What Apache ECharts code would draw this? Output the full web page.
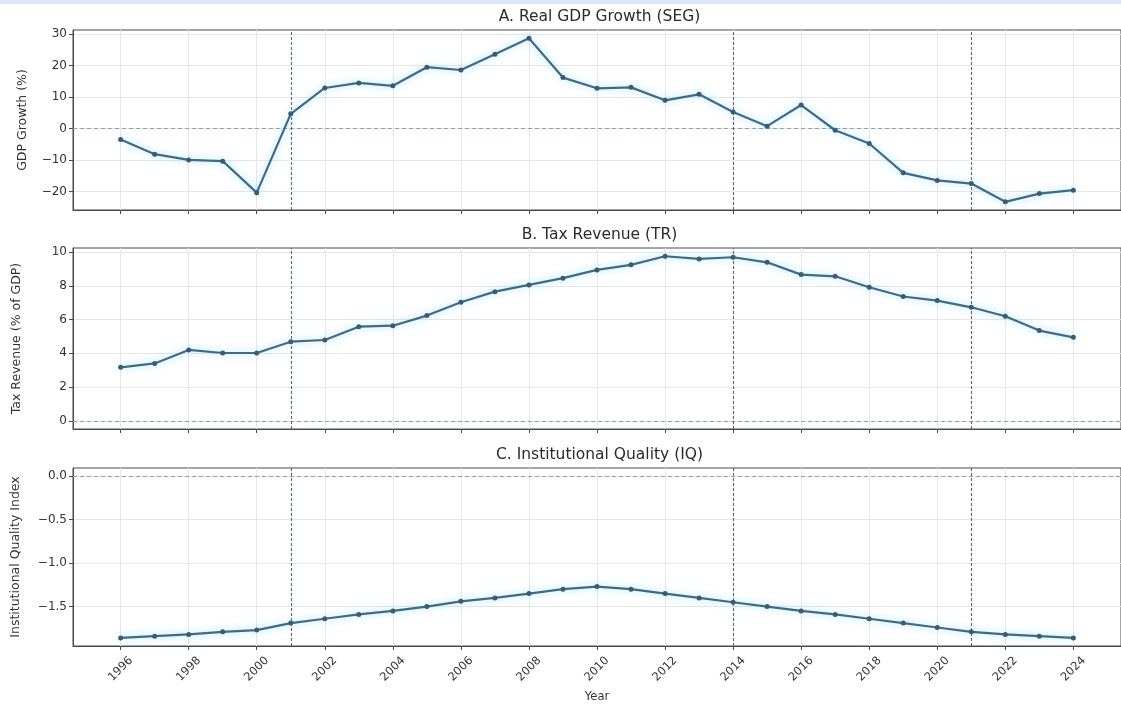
<!DOCTYPE html>
<html>
<head>
<meta charset="utf-8">
<title>Macro indicators 1996–2024</title>
<script src="https://cdn.jsdelivr.net/npm/echarts@6/dist/echarts.min.js"></script>
<style>
  html, body { margin: 0; padding: 0; background: #ffffff; }
  #chart { width: 1121px; height: 704px; }
  #band { position: absolute; left: 0; top: 0; width: 1121px; height: 4px; background: #dce6fa; }
</style>
</head>
<body>
<div id="chart"></div>
<div id="band"></div>
<script>
// ---- data ----
const years = [1996, 1997, 1998, 1999, 2000, 2001, 2002, 2003, 2004, 2005,
               2006, 2007, 2008, 2009, 2010, 2011, 2012, 2013, 2014, 2015,
               2016, 2017, 2018, 2019, 2020, 2021, 2022, 2023, 2024];

const gdpGrowth = [-3.4, -8.1, -9.9, -10.3, -20.3, 4.7, 12.9, 14.5, 13.6, 19.5,
                   18.6, 23.6, 28.7, 16.2, 12.8, 13.1, 9.0, 10.9, 5.3, 0.8,
                   7.5, -0.5, -4.7, -14.0, -16.4, -17.4, -23.2, -20.6, -19.5];

const taxRevenue = [3.17, 3.40, 4.20, 4.02, 4.02, 4.69, 4.79, 5.58, 5.64, 6.24,
                    7.03, 7.66, 8.06, 8.46, 8.95, 9.25, 9.76, 9.60, 9.70, 9.40,
                    8.67, 8.57, 7.92, 7.37, 7.13, 6.73, 6.20, 5.35, 4.95];

const institutionalQuality = [-1.86, -1.84, -1.82, -1.79, -1.77, -1.69, -1.64, -1.59, -1.55, -1.50,
                              -1.44, -1.40, -1.35, -1.30, -1.27, -1.30, -1.35, -1.40, -1.45, -1.50,
                              -1.55, -1.59, -1.64, -1.69, -1.74, -1.79, -1.82, -1.84, -1.86];

// years marked with vertical dashed reference lines
const breakYears = [2001, 2014, 2021];

// tick labels
const xTicks = [1996, 1998, 2000, 2002, 2004, 2006, 2008, 2010, 2012, 2014, 2016, 2018, 2020, 2022, 2024];
const gdpTicks = [-20, -10, 0, 10, 20, 30];
const taxTicks = [0, 2, 4, 6, 8, 10];
const iqTicks = [-1.5, -1.0, -0.5, 0.0];

const panelTitles = ['A. Real GDP Growth (SEG)', 'B. Tax Revenue (TR)', 'C. Institutional Quality (IQ)'];
const yNames = ['GDP Growth (%)', 'Tax Revenue (% of GDP)', 'Institutional Quality Index'];

// ---- styling / layout ----
const FONT = 'DejaVu Sans';
const LINE_COLOR = '#3b6c8a';
const MARKER_COLOR = '#3a5b71';
const TEXT_COLOR = '#333333';
const FRAME_COLOR = '#4a4a4a';
const GRID_COLOR = '#e6e6e6';

const plotLeft = 73, plotWidth = 1055;
const panels = [
  { top: 30,  height: 180 },
  { top: 248, height: 181 },
  { top: 468, height: 180 }
];

// axis limits padded by 5% of the data span (zero line included)
function padded(vals) {
  const lo = Math.min(0, ...vals), hi = Math.max(0, ...vals);
  const pad = (hi - lo) * 0.05;
  return [lo - pad, hi + pad];
}
const xPad = (years[years.length - 1] - years[0]) * 0.05;
const xMin = years[0] - xPad, xMax = years[years.length - 1] + xPad;

const minus = s => s.replace('-', '\u2212');
const fmtInt = v => minus(String(Math.round(v)));
const fmt1 = v => minus((Math.abs(v) < 1e-9 ? 0 : v).toFixed(1));

const seriesData = [gdpGrowth, taxRevenue, institutionalQuality];
const yTickSets = [gdpTicks, taxTicks, iqTicks];
const yFormatters = [fmtInt, fmtInt, fmt1];
const yNameGaps = [44, 50, 51];

const grids = [], xAxes = [], yAxes = [], series = [], graphics = [];

panels.forEach((p, i) => {
  grids.push({
    left: plotLeft, width: plotWidth, top: p.top, height: p.height,
    show: true, borderColor: FRAME_COLOR, borderWidth: 1, backgroundColor: 'transparent'
  });

  const isBottom = i === panels.length - 1;
  xAxes.push({
    type: 'value', gridIndex: i, min: xMin, max: xMax,
    axisLine: { show: true, onZero: false, lineStyle: { color: FRAME_COLOR, width: 1 } },
    axisTick: { show: true, length: 4, customValues: xTicks, lineStyle: { color: FRAME_COLOR } },
    axisLabel: {
      show: isBottom, customValues: xTicks, rotate: 45, margin: 23,
      align: 'center', verticalAlign: 'middle',
      fontFamily: FONT, fontSize: 11.5, color: TEXT_COLOR,
      formatter: v => String(v)
    },
    splitLine: { show: true, lineStyle: { color: GRID_COLOR, width: 1 } },
    name: isBottom ? 'Year' : '',
    nameLocation: 'middle', nameGap: 45,
    nameTextStyle: { fontFamily: FONT, fontSize: 11.5, color: TEXT_COLOR }
  });

  const [yMin, yMax] = padded(seriesData[i]);
  yAxes.push({
    type: 'value', gridIndex: i, min: yMin, max: yMax,
    axisLine: { show: true, onZero: false, lineStyle: { color: FRAME_COLOR, width: 1 } },
    axisTick: { show: true, length: 4, customValues: yTickSets[i], lineStyle: { color: FRAME_COLOR } },
    axisLabel: {
      customValues: yTickSets[i], margin: 6,
      fontFamily: FONT, fontSize: 12, color: TEXT_COLOR,
      formatter: yFormatters[i]
    },
    splitLine: { show: true, lineStyle: { color: GRID_COLOR, width: 1 } },
    name: yNames[i], nameLocation: 'middle', nameRotate: 90, nameGap: yNameGaps[i],
    nameTextStyle: { fontFamily: FONT, fontSize: 12.5, color: TEXT_COLOR }
  });

  series.push({
    type: 'line', xAxisIndex: i, yAxisIndex: i,
    data: years.map((y, k) => [y, seriesData[i][k]]),
    symbol: 'circle', symbolSize: 5,
    itemStyle: { color: MARKER_COLOR },
    lineStyle: { color: LINE_COLOR, width: 2.2, shadowColor: 'rgba(110,205,245,0.7)', shadowBlur: 9 },
    animation: false, z: 5,
    markLine: {
      silent: true, symbol: ['none', 'none'], animation: false,
      label: { show: false },
      data: [
        { yAxis: 0, lineStyle: { color: '#86a6aa', type: [4, 3], width: 1.1 } },
        ...breakYears.map(y => ({ xAxis: y, lineStyle: { color: '#4a6a84', type: [3, 2], width: 1.1 } }))
      ]
    }
  });

  graphics.push({
    type: 'text', x: plotLeft + plotWidth / 2 - 1, y: p.top - 13,
    style: {
      text: panelTitles[i], fontFamily: FONT, fontSize: 15.5, fill: '#2b2b2b',
      textAlign: 'center', textVerticalAlign: 'middle'
    }
  });
});

const chart = echarts.init(document.getElementById('chart'), null, { renderer: 'canvas' });
chart.setOption({
  animation: false,
  backgroundColor: '#ffffff',
  grid: grids,
  xAxis: xAxes,
  yAxis: yAxes,
  series: series,
  graphic: graphics
});
</script>
</body>
</html>
